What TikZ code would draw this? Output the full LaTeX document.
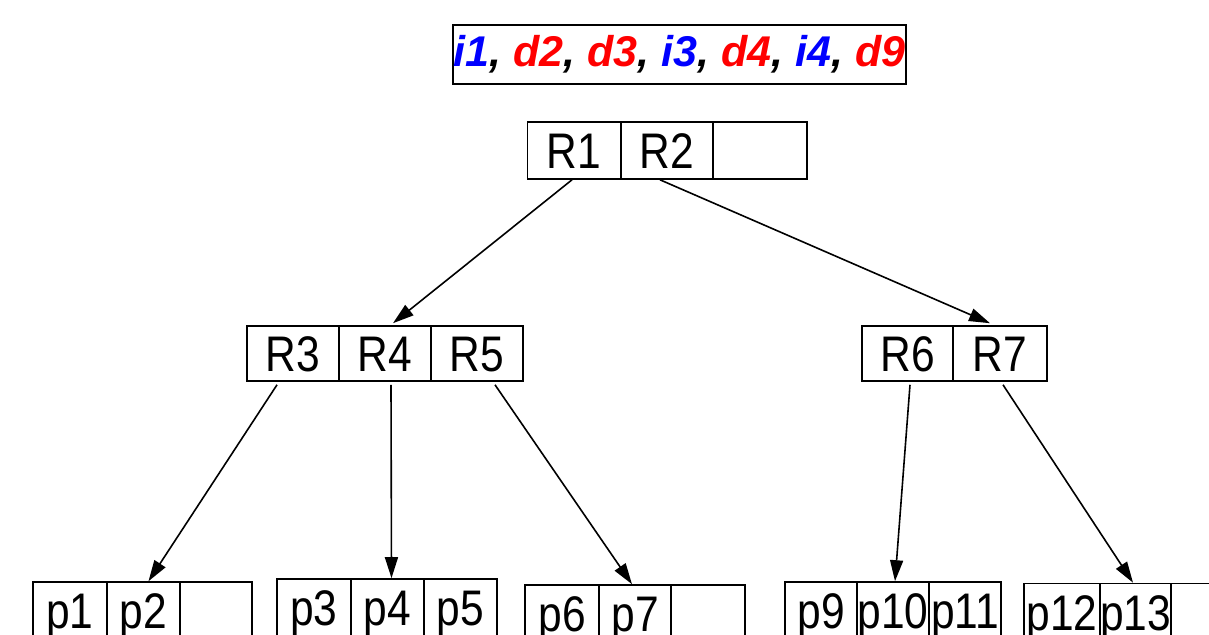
\documentclass[tikz,border=0pt]{standalone}
\usepackage{fontspec}
\usetikzlibrary{arrows.meta}
\newfontfamily\cellfont[FakeStretch=0.85]{Liberation Sans}
\newfontfamily\headfont{Liberation Sans}
\definecolor{opins}{RGB}{0,0,255}
\definecolor{opdel}{RGB}{255,0,0}
\begin{document}
\begin{tikzpicture}[x=1pt,y=-1pt,
  cellbox/.style={draw=black, line width=1.6pt, inner sep=0pt, minimum height=57pt,
    font=\cellfont\fontsize{50}{50}\selectfont, text height=36pt, text depth=0pt},
  ptr/.style={-{Triangle[length=21pt,width=13pt]}, line width=1.6pt, black}]
\useasboundingbox (0,0) rectangle (1209,634);
\begin{scope}
\clip (0,0) rectangle (1209,634);

% operation sequence
\node[draw=black, line width=1.6pt, minimum width=453pt, minimum height=59pt, inner sep=0pt,
      font=\headfont\bfseries\itshape\fontsize{43}{43}\selectfont]
  (ops) at (679.5,54.5)
  {\textcolor{opins}{i1}, \textcolor{opdel}{d2}, \textcolor{opdel}{d3}, \textcolor{opins}{i3}, \textcolor{opdel}{d4}, \textcolor{opins}{i4}, \textcolor{opdel}{d9}};

% root
\node[cellbox, minimum width=93pt] (R1) at (574,150.5) {R1};
\node[cellbox, minimum width=92pt] (R2) at (667,150.5) {R2};
\node[cellbox, minimum width=94pt] (Re) at (760,150.5) {};

% inner level
\node[cellbox, minimum width=92pt, minimum height=55pt] (R3) at (293,353.5) {R3};
\node[cellbox, minimum width=92pt, minimum height=55pt] (R4) at (385,353.5) {R4};
\node[cellbox, minimum width=92pt, minimum height=55pt] (R5) at (477,353.5) {R5};
\node[cellbox, minimum width=91pt, minimum height=55pt] (R6) at (907.5,353.5) {R6};
\node[cellbox, minimum width=94pt, minimum height=55pt] (R7) at (1000,353.5) {R7};

% leaves
\node[cellbox, minimum width=74pt] (p1) at (70,610.5) {p1};
\node[cellbox, minimum width=73pt] (p2) at (143.5,610.5) {p2};
\node[cellbox, minimum width=72pt] (pa) at (216,610.5) {};

\node[cellbox, minimum width=74pt] (p3) at (314,607.5) {p3};
\node[cellbox, minimum width=73pt] (p4) at (387.5,607.5) {p4};
\node[cellbox, minimum width=73pt] (p5) at (460.5,607.5) {p5};

\node[cellbox, minimum width=74pt] (p6) at (562,613.5) {p6};
\node[cellbox, minimum width=72pt] (p7) at (635,613.5) {p7};
\node[cellbox, minimum width=74pt] (pb) at (708,613.5) {};

\node[cellbox, minimum width=72pt] (p9) at (821,610.5) {p9};
\node[cellbox, minimum width=72pt] (p10) at (893,610.5) {p10};
\node[cellbox, minimum width=72pt] (p11) at (965,610.5) {p11};

\node[cellbox, minimum width=76pt] (p12) at (1062,612) {p12};
\node[cellbox, minimum width=71pt] (p13) at (1135.5,612) {p13};
\node[cellbox, minimum width=73pt] (pc) at (1207.5,612) {};

% child pointers
\draw[ptr] ([xshift=-2pt]R1.south) -- ([xshift=8pt,yshift=2pt]R4.north);
\draw[ptr] ([xshift=-7pt]R2.south) -- ([xshift=-10pt,yshift=2pt]R7.north);
\draw[ptr] ([xshift=-16pt,yshift=-3pt]R3.south) -- ([xshift=5pt]p2.north);
\draw[ptr] ([xshift=6pt,yshift=-3pt]R4.south) -- ([xshift=4pt]p4.north);
\draw[ptr] ([xshift=18pt,yshift=-3pt]R5.south) -- ([xshift=-3pt]p7.north);
\draw[ptr] ([xshift=2.5pt,yshift=-3pt]R6.south) -- ([xshift=2pt]p10.north);
\draw[ptr] ([xshift=3pt,yshift=-3pt]R7.south) -- ([xshift=-2.5pt]p13.north);
\end{scope}
\end{tikzpicture}
\end{document}
